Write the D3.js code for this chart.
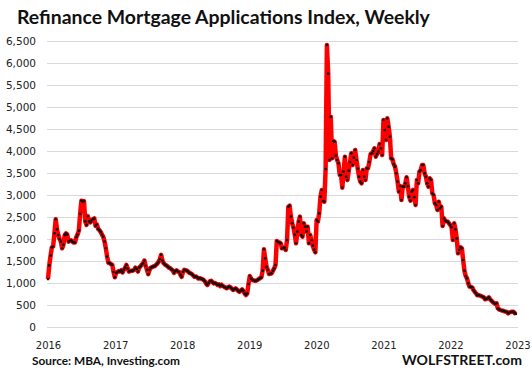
<!DOCTYPE html>
<html>
<head>
<meta charset="utf-8">
<script src="https://cdn.jsdelivr.net/npm/d3@7"></script>
<style>
  body { margin: 0; background: #fff; }
  svg { display: block; }
</style>
</head>
<body>
<div id="chart"></div>
<script>
// weekly index values, one array per year
var y2016 = [1090, 1400, 1620, 1810, 1830, 2130, 2450, 2220, 2090, 2000,
    1940, 1790, 1870, 2090, 2130, 2100, 1940, 1960, 1970, 1940,
    1920, 1920, 2040, 2100, 2190, 2570, 2870, 2850, 2860, 2400,
    2320, 2520, 2400, 2380, 2430, 2450, 2470, 2300, 2330, 2230,
    2200, 2160, 2100, 2050, 1940, 1790, 1600, 1460, 1450, 1430,
    1410, 1250];
var y2017 = [1130, 1230, 1250, 1270, 1260, 1290, 1240, 1300, 1350, 1410,
    1330, 1260, 1270, 1280, 1280, 1300, 1350, 1320, 1260, 1350,
    1380, 1420, 1450, 1510, 1390, 1300, 1200, 1300, 1350, 1360,
    1380, 1380, 1410, 1440, 1480, 1540, 1640, 1510, 1450, 1420,
    1400, 1380, 1350, 1340, 1310, 1290, 1230, 1270, 1290, 1260,
    1250, 1190];
var y2018 = [1140, 1250, 1300, 1290, 1280, 1260, 1230, 1220, 1200, 1170,
    1140, 1150, 1130, 1100, 1110, 1100, 1090, 1070, 1040, 990,
    955, 1000, 1040, 1050, 1020, 990, 1000, 980, 955, 970,
    930, 960, 930, 915, 900, 880, 900, 920, 900, 870,
    840, 860, 880, 850, 820, 800, 830, 856, 820, 760,
    727, 760];
var y2019 = [977, 1159, 1100, 1068, 1060, 1050, 1053, 1070, 1091, 1110,
    1129, 1280, 1765, 1561, 1371, 1300, 1205, 1210, 1220, 1280,
    1333, 1409, 1955, 1930, 1924, 1902, 1788, 1800, 1803, 1750,
    1977, 2735, 2758, 2508, 2356, 2258, 2100, 1902, 2167, 2394,
    2508, 2091, 2053, 2356, 2280, 2167, 2280, 1902, 2091, 1977,
    1848, 1760];
var y2020 = [1697, 2432, 2394, 2583, 2962, 3114, 2864, 2848, 3591, 6409,
    5757, 3795, 4780, 3833, 4227, 4212, 3894, 3795, 3720, 3455,
    3455, 3167, 3530, 3871, 3417, 3341, 3553, 3750, 3947, 3682,
    3850, 4023, 3795, 3600, 3417, 3303, 3265, 3568, 3420, 3341,
    3606, 3606, 3750, 3932, 3947, 4000, 4061, 3871, 3930, 3985,
    4159, 4061];
var y2021 = [3909, 4705, 4477, 4250, 4742, 4553, 4326, 3833, 3811, 3700,
    3644, 3492, 3303, 3076, 3205, 2886, 3189, 3189, 3265, 3402,
    3200, 2962, 2871, 3076, 3114, 2950, 2773, 3341, 3265, 3530,
    3568, 3682, 3682, 3492, 3417, 3265, 3189, 3379, 3341, 3038,
    3000, 2811, 2773, 2659, 2848, 2697, 2735, 2295, 2470, 2417,
    2400, 2394];
var y2022 = [2356, 2318, 2265, 1977, 2356, 2220, 2015, 1674, 1750, 1811,
    1788, 1523, 1280, 1159, 1106, 992, 917, 910, 902, 841,
    800, 765, 720, 727, 715, 705, 690, 674, 629, 640,
    652, 674, 630, 598, 568, 545, 523, 538, 424, 400,
    386, 375, 371, 356, 350, 341, 311, 330, 341, 345,
    348, 320, 295];

var yearTicks = [2016, 2017, 2018, 2019, 2020, 2021, 2022, 2023];
var valueTicks = [0, 500, 1000, 1500, 2000, 2500, 3000, 3500, 4000, 4500, 5000, 5500, 6000, 6500];

var titleText = "Refinance Mortgage Applications Index, Weekly";
var sourceText = "Source: MBA, Investing.com";
var brandText = "WOLFSTREET.com";

var W = 532, H = 373;

var values = [].concat(y2016, y2017, y2018, y2019, y2020, y2021, y2022);
var start = new Date(2016, 0, 1);
var points = values.map(function(v, i) {
    return { date: d3.timeWeek.offset(start, i), value: v };
});

var svg = d3.select("#chart").append("svg")
    .attr("width", W).attr("height", H);
svg.append("rect").attr("width", W).attr("height", H).attr("fill", "#fff");

var x = d3.scaleTime()
    .domain([new Date(2016, 0, 1), new Date(2023, 0, 1)])
    .range([48, 517.5]);
var y = d3.scaleLinear().domain([0, 6500]).range([327, 41]);

// gridlines + y labels
var yAxis = svg.append("g")
    .attr("transform", "translate(47,0)")
    .call(d3.axisLeft(y).tickValues(valueTicks)
        .tickFormat(d3.format(","))
        .tickSize(-471).tickPadding(11));
yAxis.select(".domain").remove();
yAxis.selectAll(".tick line").attr("stroke", "#d9d9d9").attr("stroke-width", 1.2);
yAxis.selectAll(".tick text")
    .attr("fill", "#222")
    .style("font-family", "'DejaVu Sans', Verdana, sans-serif")
    .style("font-size", "10.5px");

// x labels
var xAxis = svg.append("g")
    .attr("transform", "translate(0,327)")
    .call(d3.axisBottom(x)
        .tickValues(yearTicks.map(function(yr) { return new Date(yr, 0, 1); }))
        .tickFormat(d3.timeFormat("%Y"))
        .tickSize(0).tickPadding(15));
xAxis.select(".domain").remove();
xAxis.selectAll(".tick text")
    .attr("fill", "#222")
    .style("font-family", "'DejaVu Sans', Verdana, sans-serif")
    .style("font-size", "10px");

// line + dots
var line = d3.line()
    .x(function(d) { return x(d.date); })
    .y(function(d) { return y(d.value); });

svg.append("path")
    .datum(points)
    .attr("d", line)
    .attr("fill", "none")
    .attr("stroke", "#ff0000")
    .attr("stroke-width", 4.5)
    .attr("stroke-linejoin", "round");

svg.append("g").selectAll("circle")
    .data(points)
    .enter().append("circle")
    .attr("cx", function(d) { return x(d.date); })
    .attr("cy", function(d) { return y(d.value); })
    .attr("r", 1.35)
    .attr("fill", "#111");

// texts, sized so they span the same width as in the picture
function fitText(sel, width) {
    var fs = parseFloat(sel.style("font-size"));
    var len = sel.node().getComputedTextLength();
    sel.style("font-size", (fs * width / len).toFixed(2) + "px");
}

var title = svg.append("text")
    .attr("x", 17).attr("y", 24)
    .style("font-family", "Lato, 'Open Sans', sans-serif")
    .style("font-weight", "bold")
    .style("font-size", "19px")
    .attr("fill", "#111")
    .text(titleText);
fitText(title, 413);

var source = svg.append("text")
    .attr("x", 32).attr("y", 365)
    .style("font-family", "Lato, 'Open Sans', sans-serif")
    .style("font-weight", "bold")
    .style("font-size", "12px")
    .attr("fill", "#111")
    .text(sourceText);
fitText(source, 148);

var brand = svg.append("text")
    .attr("x", 402).attr("y", 365)
    .style("font-family", "Lato, 'Open Sans', sans-serif")
    .style("font-weight", "bold")
    .style("font-size", "15px")
    .attr("fill", "#111")
    .text(brandText);
fitText(brand, 120);
</script>
</body>
</html>
